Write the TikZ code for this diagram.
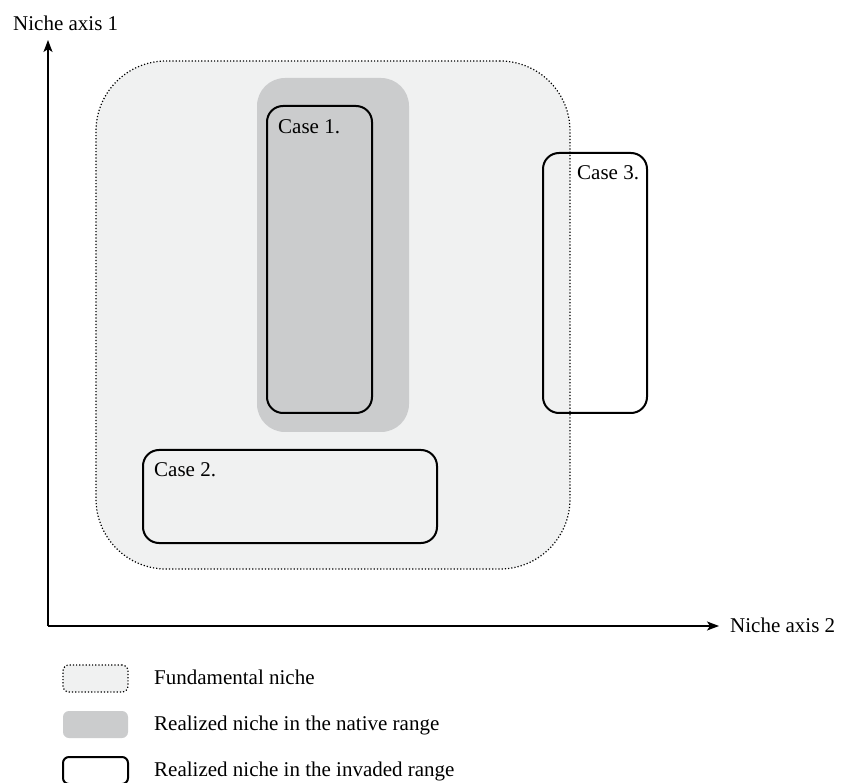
\documentclass[tikz,border=0pt]{standalone}
\usepackage{fontspec}
\setmainfont{Liberation Serif}
\usetikzlibrary{arrows.meta}
\definecolor{fundfill}{HTML}{F0F1F1}
\definecolor{nativefill}{HTML}{CBCCCD}
\begin{document}
\begin{tikzpicture}[x=1pt, y=-1pt, font=\fontsize{21}{25}\selectfont,
	box/.style={anchor=north west, inner sep=0, outer sep=0},
	fundamental/.style={box, draw, dotted, line width=1.2pt, fill=fundfill, rounded corners=70pt},
	native/.style={box, fill=nativefill, rounded corners=28pt},
	invaded/.style={box, draw, line width=2pt, rounded corners=16pt},
	fundkey/.style={draw, dotted, line width=1.2pt, fill=fundfill},
	nativekey/.style={fill=nativefill},
	invadedkey/.style={draw, line width=2pt},
	caselabel/.style={anchor=base west, inner sep=0},
	axis/.style={line width=1.5pt, -{Stealth[length=12pt, width=9pt, inset=3pt]}}]
	\useasboundingbox [fill=white] (0,0) rectangle (841,783);

	% niches
	\node [fundamental, minimum width=474pt, minimum height=508pt] (fund) at (96,61) {};
	\node [native, minimum width=152pt, minimum height=354pt] (native) at (257,78) {};
	\node [invaded, minimum width=105pt, minimum height=307pt] (case1) at (267,106) {};
	\node [invaded, minimum width=294pt, minimum height=93pt] (case2) at (143,450) {};
	\node [invaded, minimum width=104pt, minimum height=260pt] (case3) at (543,153) {};
	\node [caselabel] at ([xshift=11pt, yshift=-28pt] case1.north west) {Case 1.};
	\node [caselabel] at ([xshift=11pt, yshift=-27pt] case2.north west) {Case 2.};
	\node [caselabel] at ([xshift=34pt, yshift=-27pt] case3.north west) {Case 3.};

	% axes
	\coordinate (origin) at (48,626);
	\coordinate (ytip) at (48,40);
	\coordinate (xtip) at (719,626);
	\draw [axis] (origin) -- (ytip);
	\draw [axis] (origin) -- (xtip);
	\node [anchor=base west, inner sep=0] (ylabel) at (13,31) {Niche axis 1};
	\node [anchor=base west, inner sep=0] (xlabel) at (730,632) {Niche axis 2};

	% legend
	\foreach \y/\key/\text in {%
			665/fundkey/Fundamental niche,%
			711/nativekey/Realized niche in the native range,%
			757/invadedkey/Realized niche in the invaded range%
	}{%
		\node [box, \key, rounded corners=6pt, minimum width=65pt, minimum height=27pt] (\key) at (63,\y) {};
		\node [anchor=base west, inner sep=0] at ([xshift=26pt, yshift=-19pt] \key.north east) {\text};
	}
\end{tikzpicture}
\end{document}
